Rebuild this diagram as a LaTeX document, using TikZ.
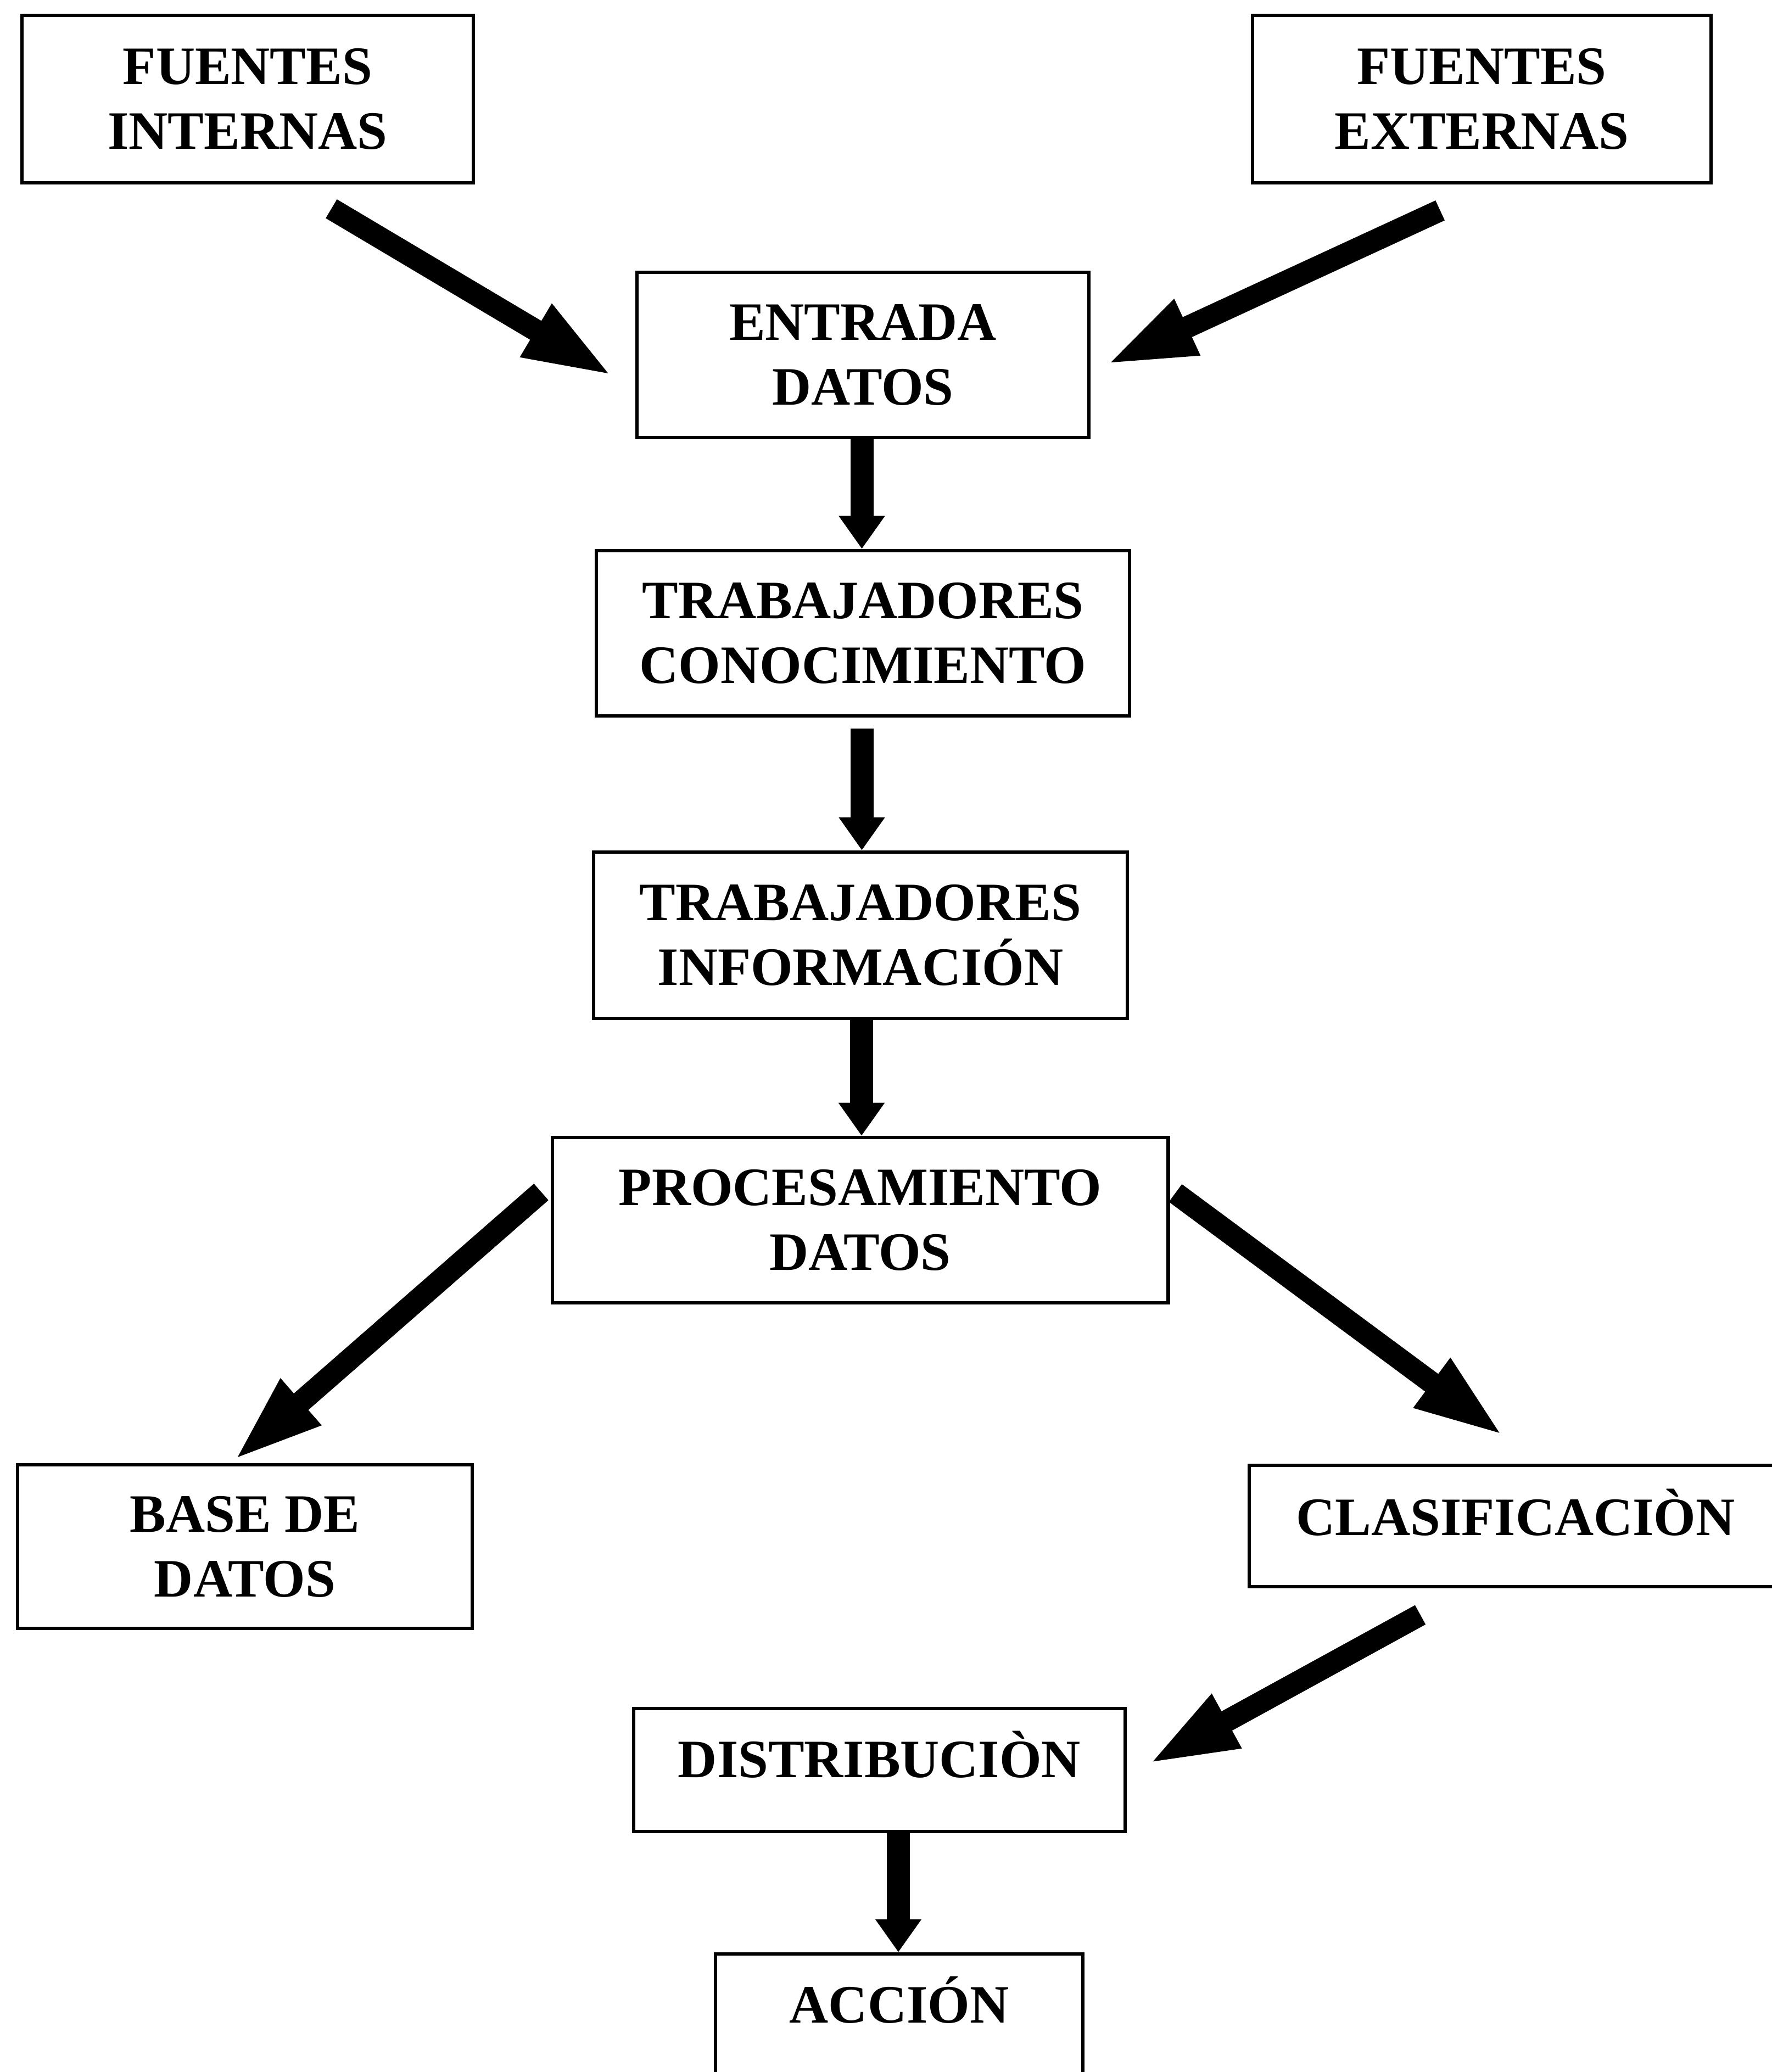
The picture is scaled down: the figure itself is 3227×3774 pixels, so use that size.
\documentclass[tikz,border=0pt]{standalone}
\usepackage{fontspec}
\setmainfont{Liberation Serif}
\usetikzlibrary{arrows.meta,calc}
\begin{document}
\begin{tikzpicture}[x=0.01cm,y=-0.01cm,
  box/.style={draw, line width=1.8pt, rectangle, inner sep=0pt, align=center,
    font=\bfseries\fontsize{28}{33.5}\selectfont},
  onebox/.style={box, text height=0.65cm},
  bigarrow/.style={line width=0.4cm, -{Triangle[width=1cm,length=1.65cm]}},
  vertarrow/.style={line width=0.42cm, -{Triangle[width=0.8cm,length=0.6cm]}}]
\useasboundingbox (0,0) rectangle (3227,3774);

\node[box, minimum width=8.22cm, minimum height=3.05cm] (fi) at (451,180.5) {FUENTES\\INTERNAS};
\node[box, minimum width=8.35cm, minimum height=3.05cm] (fe) at (2698.5,180.5) {FUENTES\\EXTERNAS};
\node[box, minimum width=8.23cm, minimum height=3.01cm] (ed) at (1571.5,646.5) {ENTRADA\\DATOS};
\node[box, minimum width=9.71cm, minimum height=3.01cm] (tc) at (1571.5,1153.5) {TRABAJADORES\\CONOCIMIENTO};
\node[box, minimum width=9.72cm, minimum height=3.03cm] (ti) at (1567,1703.5) {TRABAJADORES\\INFORMACIÓN};
\node[box, minimum width=11.21cm, minimum height=3.01cm] (pd) at (1566.5,2222.5) {PROCESAMIENTO\\DATOS};
\node[box, minimum width=8.28cm, minimum height=2.98cm] (bd) at (446,2817) {BASE DE\\DATOS};
\node[onebox, text depth=0.32cm, minimum width=9.70cm, minimum height=2.21cm] (cl) at (2760,2779.5) {CLASIFICACIÒN};
\node[onebox, text depth=0.38cm, minimum width=8.95cm, minimum height=2.24cm] (di) at (1601.5,3224) {DISTRIBUCIÒN};
\node[onebox, text depth=0.45cm, minimum width=6.69cm, minimum height=2.31cm] (ac) at (1637.5,3674.5) {ACCIÓN};

\coordinate (a1s) at ($(fi.south east)+(-262,44)$);
\coordinate (a1e) at ($(ed.west)+(-39,39.5)$);
\coordinate (a2s) at ($(fe.south west)+(345,47)$);
\coordinate (a2e) at ($(ed.east)+(26,18.5)$);
\coordinate (a3s) at ($(ed.south)+(-2,0)$);
\coordinate (a4s) at ($(tc.south)+(-2,20)$);
\coordinate (a5s) at ($(ti.south)+(2,0)$);
\coordinate (a6s) at ($(pd.west)+(-17,-51.5)$);
\coordinate (a6e) at ($(bd.north)+(-22,-3)$);
\coordinate (a7s) at ($(pd.east)+(10,-49.5)$);
\coordinate (a7e) at ($(cl.north)+(-20,-49)$);
\coordinate (a8s) at ($(cl.south west)+(315,48)$);
\coordinate (a8e) at ($(di.east)+(37,-10)$);
\coordinate (a9s) at ($(di.south)+(34.5,0)$);

\draw[bigarrow] (a1s) -- (a1e);
\draw[bigarrow] (a2s) -- (a2e);
\draw[vertarrow] (a3s) -- (a3s |- tc.north);
\draw[vertarrow] (a4s) -- (a4s |- ti.north);
\draw[vertarrow] (a5s) -- (a5s |- pd.north);
\draw[bigarrow] (a6s) -- (a6e);
\draw[bigarrow] (a7s) -- (a7e);
\draw[bigarrow] (a8s) -- (a8e);
\draw[vertarrow] (a9s) -- (a9s |- ac.north);
\end{tikzpicture}
\end{document}
